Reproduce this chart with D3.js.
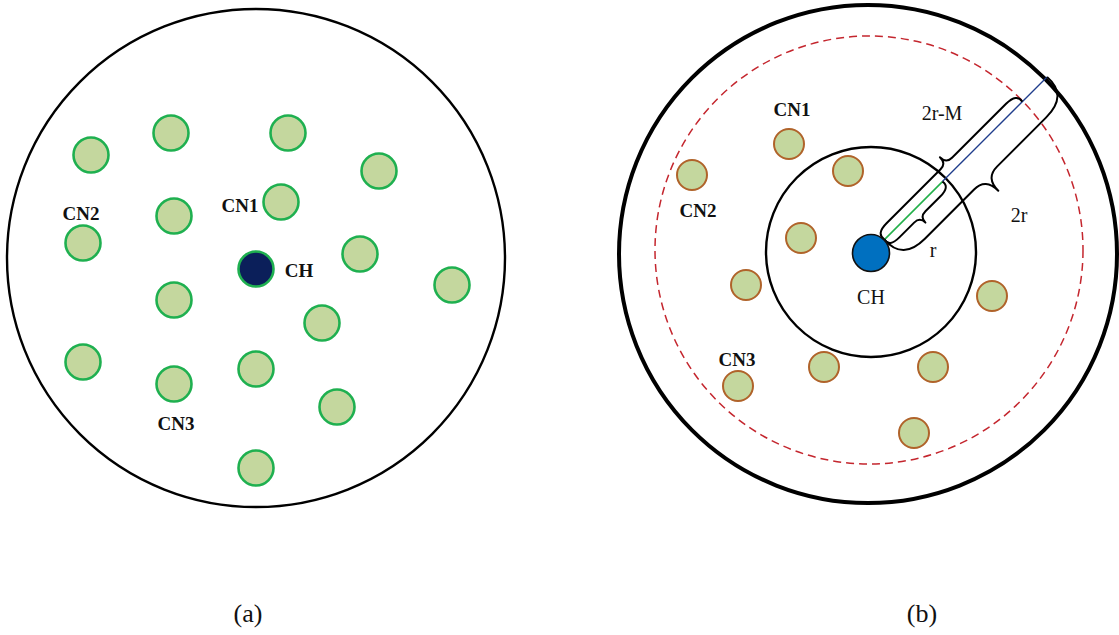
<!DOCTYPE html>
<html>
<head>
<meta charset="utf-8">
<script src="https://cdn.jsdelivr.net/npm/d3@7"></script>
<style>
  html, body { margin: 0; padding: 0; background: #fff; }
  svg { display: block; }
  text { font-family: "Liberation Serif", "Times New Roman", serif; fill: #111; }
</style>
</head>
<body>
<svg id="fig" width="1119" height="635"></svg>
<script>
// ---- Panel (a): sensor field, offsets from the field centre (px units) ----
const fieldRadiusA = 249;
const nodesA = [
  [-165, -103], [-85, -125], [32, -125], [123, -87],
  [-82, -42], [25, -56], [-173, -15], [104, -4], [196, 27],
  [-82, 42], [66, 65], [-173, 104], [-82, 126], [0, 111],
  [81, 149], [0, 210]
];
const headA = [0, 11];
const labelTextA = ["CN1", "CN2", "CN3", "CH"];
const labelPosA = [[-16, -53], [-175, -45], [-80, 165], [43, 12]];

// ---- Panel (b): ranges around the cluster head ----
const outerRadiusB = 249;
const commRing = { c: [1, -4], r: 214 };   // 2r - M boundary (dashed)
const innerRing = { c: [3, -2], r: 105 };  // r boundary
const nodesB = [
  [-79, -110], [-20, -83], [-176, -79], [-67, -16], [-122, 31],
  [124, 42], [-44, 113], [65, 113], [-130, 132], [46, 179]
];
const headB = [3, -1];
const labelTextB = ["CN1", "CN2", "CN3"];
const labelPosB = [[-76, -145], [-170, -44], [-131, 105]];
const headLabelB = [3, 43];

// distances measured from the cluster head along the 45° ray
const rayAngle = -45;
const segGreen = [19, 101];
const segBlue = [101, 249];
const braceLabels = ["r", "2r-M", "2r"];
const braceSpan = [[19, 101], [19, 214], [19, 249]];
const braceSide = [1, -1, 1];
const braceBody = [9, 10, 28];
const braceTip = [17, 19, 46];
const braceTextPos = [[65, -4], [74, -141], [151, -39]];

const captions = ["(a)", "(b)"];

const svg = d3.select("#fig");

// position scales for each panel (field offsets -> page pixels)
const xA = d3.scaleLinear().domain([-250, 250]).range([6, 506]);
const yA = d3.scaleLinear().domain([-250, 250]).range([8, 508]);
const xB = d3.scaleLinear().domain([-250, 250]).range([618, 1118]);
const yB = d3.scaleLinear().domain([-250, 250]).range([4, 504]);
const len = (s, v) => s(v) - s(0);

// ===== Panel (a) =====
const gA = svg.append("g");
gA.append("circle")
  .attr("cx", xA(0)).attr("cy", yA(0)).attr("r", len(xA, fieldRadiusA))
  .attr("fill", "none").attr("stroke", "#000").attr("stroke-width", 2.4);

gA.selectAll("circle.node").data(nodesA).join("circle")
  .attr("class", "node")
  .attr("cx", d => xA(d[0])).attr("cy", d => yA(d[1])).attr("r", 17.5)
  .attr("fill", "#c4d79e").attr("stroke", "#1fb050").attr("stroke-width", 2.6);

gA.append("circle")
  .attr("cx", xA(headA[0])).attr("cy", yA(headA[1])).attr("r", 17.5)
  .attr("fill", "#0b1f5a").attr("stroke", "#1fb050").attr("stroke-width", 2.6);

gA.selectAll("text.lab").data(labelTextA).join("text")
  .attr("class", "lab")
  .attr("x", (d, i) => xA(labelPosA[i][0]))
  .attr("y", (d, i) => yA(labelPosA[i][1]))
  .attr("text-anchor", "middle").attr("dy", "0.35em")
  .attr("font-size", 19).attr("font-weight", "bold")
  .text(d => d);

// ===== Panel (b) =====
const gB = svg.append("g");
gB.append("circle")
  .attr("cx", xB(0)).attr("cy", yB(0)).attr("r", len(xB, outerRadiusB))
  .attr("fill", "none").attr("stroke", "#000").attr("stroke-width", 4);

gB.append("circle")
  .attr("cx", xB(commRing.c[0])).attr("cy", yB(commRing.c[1])).attr("r", len(xB, commRing.r))
  .attr("fill", "none").attr("stroke", "#c4262e").attr("stroke-width", 1.5)
  .attr("stroke-dasharray", "8,5");

gB.append("circle")
  .attr("cx", xB(innerRing.c[0])).attr("cy", yB(innerRing.c[1])).attr("r", len(xB, innerRing.r))
  .attr("fill", "none").attr("stroke", "#000").attr("stroke-width", 2.4);

gB.selectAll("circle.node").data(nodesB).join("circle")
  .attr("class", "node")
  .attr("cx", d => xB(d[0])).attr("cy", d => yB(d[1])).attr("r", 15)
  .attr("fill", "#c4d79e").attr("stroke", "#b0632a").attr("stroke-width", 2);

// ray from the cluster head
const rad = rayAngle * Math.PI / 180;
const dir = [Math.cos(rad), Math.sin(rad)];
const nrm = [-dir[1], dir[0]]; // points lower-right for a 45° up-right ray
const along = (u, v, side) => [
  xB(headB[0]) + u * dir[0] + side * v * nrm[0],
  yB(headB[1]) + u * dir[1] + side * v * nrm[1]
];

const lineGen = d3.line();
gB.append("path")
  .attr("d", lineGen([along(segBlue[0], 0, 1), along(segBlue[1], 0, 1)]))
  .attr("stroke", "#1f3d8c").attr("stroke-width", 1.3).attr("fill", "none");
gB.append("path")
  .attr("d", lineGen([along(segGreen[0], 0, 1), along(segGreen[1], 0, 1)]))
  .attr("stroke", "#22b04a").attr("stroke-width", 1.6).attr("fill", "none");

// curly braces along the ray
function bracePath(u0, u1, side, b, w) {
  const m = (u0 + u1) / 2;
  const e = Math.min(b * 0.9 + 4, (u1 - u0) / 4);
  const c = Math.max(8, (w - b) * 0.9);
  const p = d3.path();
  const P = (u, v) => along(u, v, side);
  let q;
  p.moveTo(...P(u0, 0));
  q = P(u0 - 2, b); p.quadraticCurveTo(q[0], q[1], ...P(u0 + e, b));
  p.lineTo(...P(m - c, b));
  q = P(m, b); p.quadraticCurveTo(q[0], q[1], ...P(m, w));
  q = P(m, b); p.quadraticCurveTo(q[0], q[1], ...P(m + c, b));
  p.lineTo(...P(u1 - e, b));
  q = P(u1 + 2, b); p.quadraticCurveTo(q[0], q[1], ...P(u1, 0));
  return p.toString();
}

gB.selectAll("path.brace").data(braceLabels).join("path")
  .attr("class", "brace")
  .attr("d", (d, i) => bracePath(braceSpan[i][0], braceSpan[i][1], braceSide[i], braceBody[i], braceTip[i]))
  .attr("fill", "none").attr("stroke", "#000").attr("stroke-width", 2)
  .attr("stroke-linejoin", "round");

gB.selectAll("text.brl").data(braceLabels).join("text")
  .attr("class", "brl")
  .attr("x", (d, i) => xB(braceTextPos[i][0]))
  .attr("y", (d, i) => yB(braceTextPos[i][1]))
  .attr("text-anchor", "middle").attr("dy", "0.35em")
  .attr("font-size", 20)
  .text(d => d);

// cluster head
gB.append("circle")
  .attr("cx", xB(headB[0])).attr("cy", yB(headB[1])).attr("r", 18.5)
  .attr("fill", "#0070c0").attr("stroke", "#111").attr("stroke-width", 1.6);

gB.append("text")
  .attr("x", xB(headLabelB[0])).attr("y", yB(headLabelB[1]))
  .attr("text-anchor", "middle").attr("dy", "0.35em")
  .attr("font-size", 20)
  .text("CH");

gB.selectAll("text.lab").data(labelTextB).join("text")
  .attr("class", "lab")
  .attr("x", (d, i) => xB(labelPosB[i][0]))
  .attr("y", (d, i) => yB(labelPosB[i][1]))
  .attr("text-anchor", "middle").attr("dy", "0.35em")
  .attr("font-size", 19).attr("font-weight", "bold")
  .text(d => d);

// panel captions
const capX = [xA(-8), xB(54)];
svg.selectAll("text.cap").data(captions).join("text")
  .attr("class", "cap")
  .attr("x", (d, i) => capX[i]).attr("y", 622)
  .attr("text-anchor", "middle")
  .attr("font-size", 26)
  .text(d => d);
</script>
</body>
</html>
